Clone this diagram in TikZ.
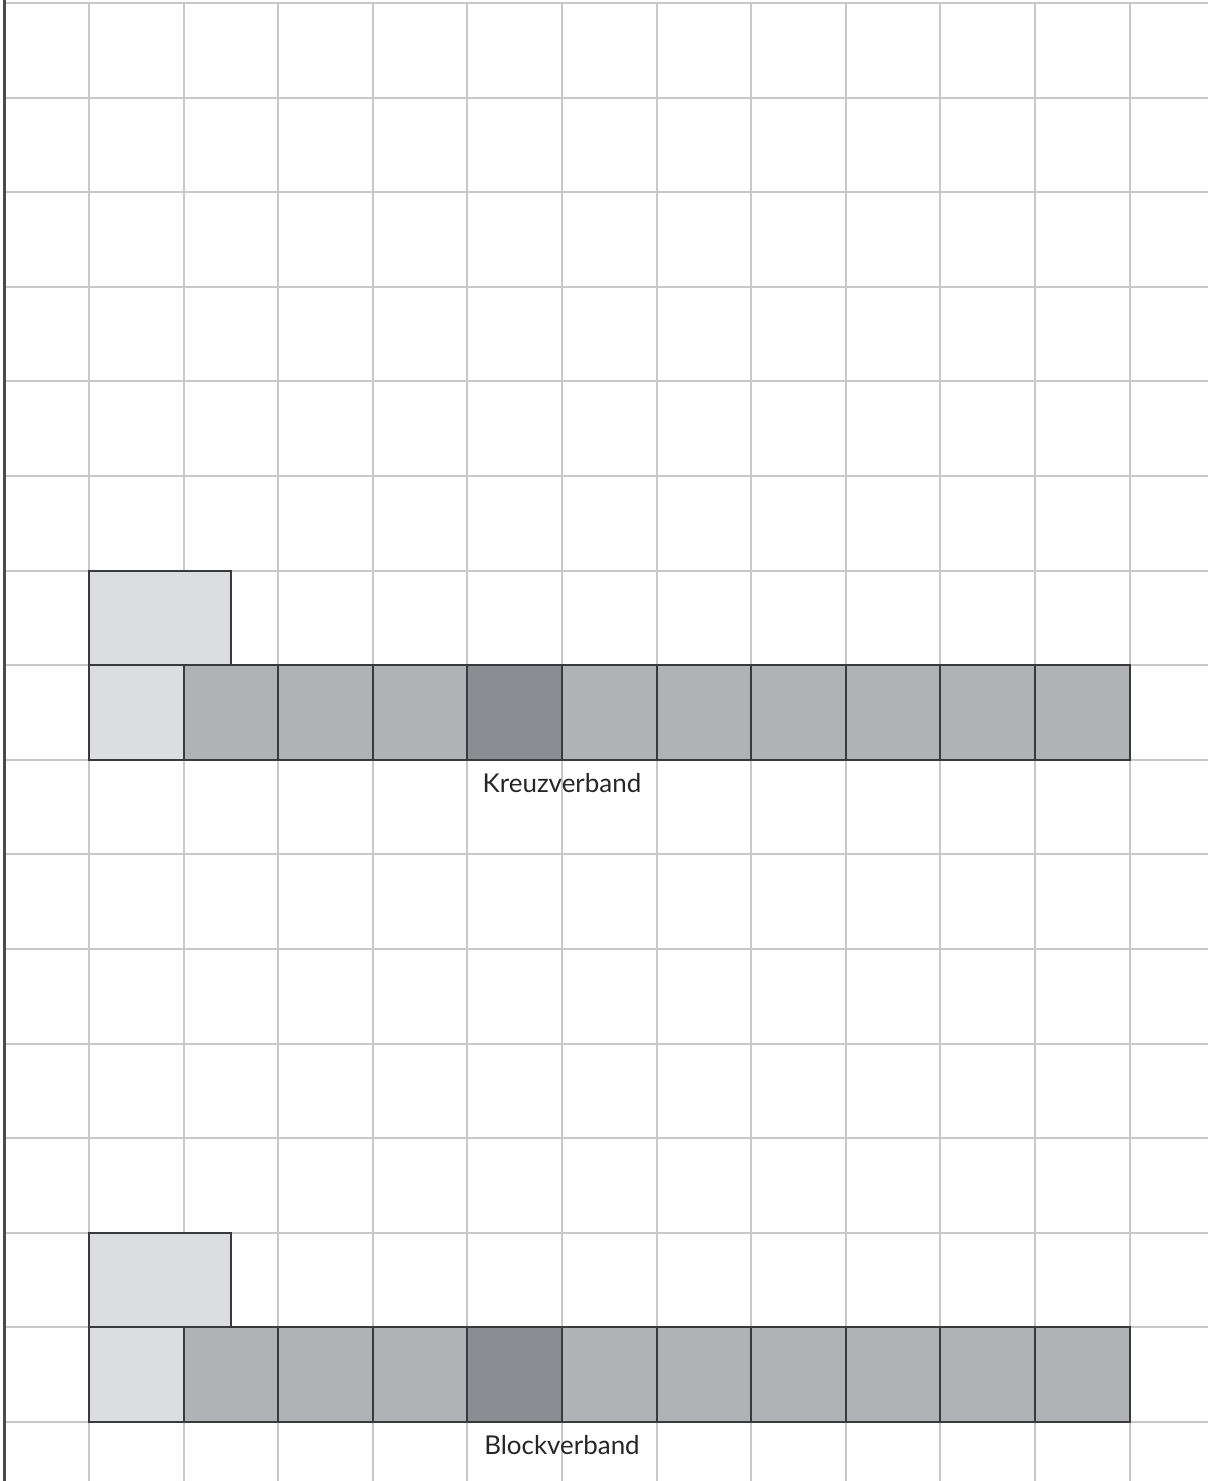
\documentclass[tikz,border=0pt]{standalone}
\usepackage{fontspec}
\setmainfont{Lato}
\usepackage{xcolor}
\usetikzlibrary{positioning}

\definecolor{gridgray}{HTML}{C8C8CA}
\definecolor{framegray}{HTML}{4A4A4C}
\definecolor{edgegray}{HTML}{3A3A3C}
\definecolor{brickpale}{HTML}{DCDDDF}
\definecolor{brickmid}{HTML}{B1B2B6}
\definecolor{brickdark}{HTML}{8C8D92}

\tikzset{
  gridline/.style={draw=gridgray, line width=0.6pt},
  frameline/.style={draw=framegray, line width=0.9pt},
  stone/.style={
    draw=edgegray,
    line width=0.6pt,
    minimum width=1cm,
    minimum height=1cm,
    inner sep=0pt,
    outer sep=0pt
  },
  header/.style={stone, fill=brickpale, minimum width=1.5cm},
  caption/.style={font=\fontsize{7.8}{9}\selectfont, text=black!85, inner sep=0pt}
}

\begin{document}
\begin{tikzpicture}[x=1cm, y=1cm]
  \useasboundingbox (-0.941,0.032) rectangle (11.829,-15.624);

  % raster
  \foreach \row in {0,...,15}
    \draw[gridline] (-0.893,-\row) -- (11.829,-\row);
  \foreach \col in {0,...,11}
    \draw[gridline] (\col,0) -- (\col,-15.624);
  \draw[frameline] (-0.893,0.032) -- (-0.893,-15.624);

  % two courses
  \foreach \y/\name/\label in {7/kreuz/Kreuzverband, 14/block/Blockverband}{
    \node[stone, fill=brickpale, anchor=north west] (\name-0) at (0,-\y) {};
    \foreach \i/\shade [count=\j from 0] in {1/brickmid, 2/brickmid, 3/brickmid, 4/brickdark, 5/brickmid,
                                              6/brickmid, 7/brickmid, 8/brickmid, 9/brickmid, 10/brickmid}
      \node[stone, fill=\shade, right=0pt of \name-\j] (\name-\i) {};
    \node[header, above right=0pt and 0pt of \name-0.north west] (\name-top) {};
    \node[caption, below=0.14cm of \name-4.south east] (\name-label) {\label};
  }
\end{tikzpicture}
\end{document}
